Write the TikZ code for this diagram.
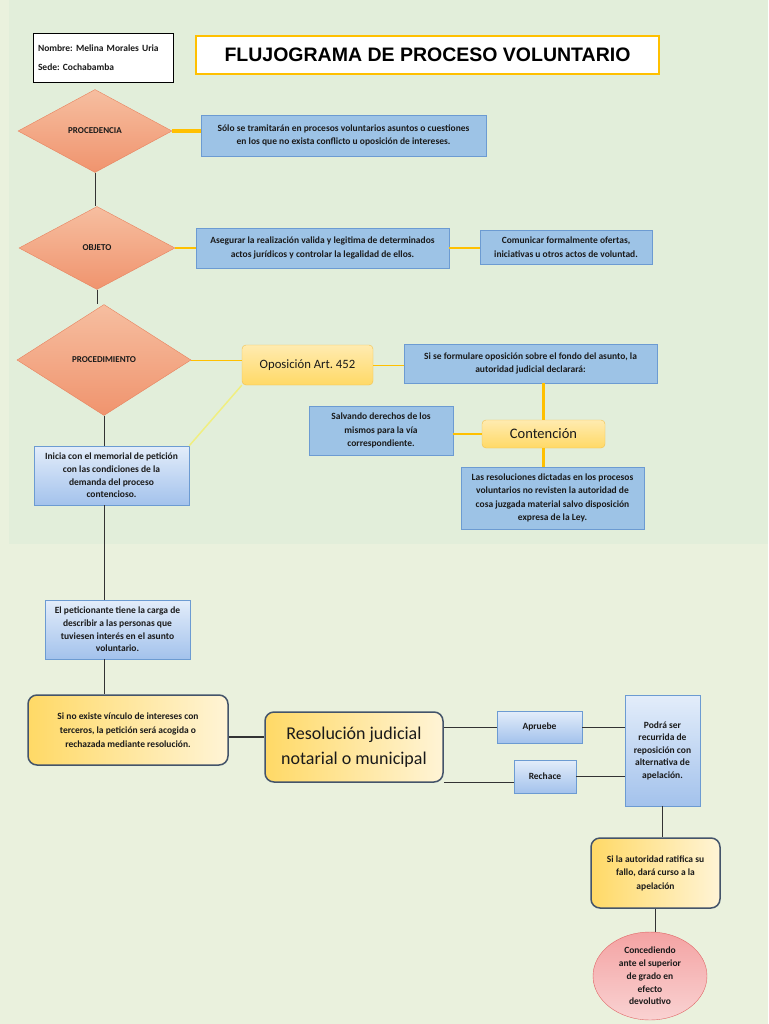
\documentclass[tikz,border=0pt]{standalone}
\usepackage{fontspec}
\setmainfont{Carlito}
\newfontfamily\titulofont{Liberation Sans}
\usetikzlibrary{shapes}
\usetikzlibrary{shapes.geometric}
\usetikzlibrary{calc}
\usetikzlibrary{positioning}
\frenchspacing

\definecolor{fondo}{HTML}{EAF1DD}
\definecolor{fondoalto}{HTML}{E2EEDA}
\definecolor{oro}{HTML}{FFC000}
\definecolor{orotenue}{HTML}{F0EE80}
\definecolor{rombotop}{HTML}{F6BEA0}
\definecolor{rombobot}{HTML}{F0946E}
\definecolor{rombolinea}{HTML}{E8825E}
\definecolor{azul}{HTML}{9DC3E6}
\definecolor{azullinea}{HTML}{6C9BD2}
\definecolor{azulclaro}{HTML}{E3EDFA}
\definecolor{azulfuerte}{HTML}{A3C2EC}
\definecolor{amarillo}{HTML}{FFD966}
\definecolor{amarilloclaro}{HTML}{FFEBB0}
\definecolor{amarillolinea}{HTML}{F2C14E}
\definecolor{crema}{HTML}{FFF4D6}
\definecolor{pizarra}{HTML}{44546A}
\definecolor{rosa}{HTML}{F4A3A3}
\definecolor{rosaclaro}{HTML}{F9D2D2}
\definecolor{rosalinea}{HTML}{E06666}
\definecolor{texto}{HTML}{1A1A1A}

\tikzset{
  rombo/.style={diamond, draw=rombolinea, top color=rombotop, bottom color=rombobot, inner sep=0pt, text=texto, font=\fontsize{9}{10}\selectfont\bfseries},
  caja/.style={rectangle, draw=azullinea, fill=azul, inner sep=0pt, align=center, text=texto, font=\fontsize{9.5}{13.5}\selectfont\bfseries},
  cajaclara/.style={rectangle, draw=azullinea, top color=azulclaro, bottom color=azulfuerte, inner sep=0pt, align=center, text=texto, font=\fontsize{9.5}{12.7}\selectfont\bfseries},
  dorada/.style={rectangle, rounded corners=4pt, draw=amarillolinea, top color=amarilloclaro, bottom color=amarillo, inner sep=0pt, align=center, text=texto},
  redondo/.style={rectangle, rounded corners=9pt, draw=pizarra, line width=1.5pt, left color=amarillo, right color=crema, inner sep=0pt, align=center, text=texto},
  linea/.style={draw=black!80, line width=0.8pt},
  orogrueso/.style={draw=oro, line width=3.5pt},
  orofino/.style={draw=oro, line width=1.8pt}
}

\begin{document}
\begin{tikzpicture}[x=1pt,y=-1pt]
% fondo
\fill[fondo] (0,0) rectangle (768,1024);
\fill[fondoalto] (9,0) rectangle (768,544);
\useasboundingbox (0,0) rectangle (768,1024);

% encabezado
\node[draw=black, fill=white, line width=0.8pt, minimum width=140, minimum height=49, text width=130, align=left, inner sep=0pt, text=texto, font=\fontsize{9.5}{11}\selectfont\bfseries] (datos) at (103,57.5) {Nombre: Melina Morales Uria\\[8pt]Sede: Cochabamba};
\node[draw=oro, fill=white, line width=2.5pt, minimum width=463, minimum height=38, inner sep=0pt, font=\titulofont\fontsize{19.5}{22}\selectfont\bfseries] (titulo) at (427.5,55) {FLUJOGRAMA DE PROCESO VOLUNTARIO};

% rombos
\node[rombo, minimum width=154, minimum height=83] (procedencia) at (95,131) {PROCEDENCIA};
\node[rombo, minimum width=156, minimum height=83] (objeto) at (97,248) {OBJETO};
\node[rombo, minimum width=174, minimum height=111] (procedimiento) at (104,360) {PROCEDIMIENTO};

% cajas azules
\node[caja, minimum width=285, minimum height=41] (tramite) at (343.5,135.5) {S\'olo se tramitar\'an en procesos voluntarios asuntos o cuestiones\\en los que no exista conflicto u oposici\'on de intereses.};
\node[caja, minimum width=253, minimum height=40] (asegurar) at (322.5,248) {Asegurar la realizaci\'on valida y legitima de determinados\\actos jur\'idicos y controlar la legalidad de ellos.};
\node[caja, minimum width=172, minimum height=34] (comunicar) at (566,247) {Comunicar formalmente ofertas,\\iniciativas u otros actos de voluntad.};
\node[caja, minimum width=253, minimum height=39] (formulare) at (530.5,363.5) {Si se formulare oposici\'on sobre el fondo del asunto, la\\autoridad judicial declarar\'a:};
\node[caja, minimum width=144, minimum height=49] (salvando) at (381,430.5) {Salvando derechos de los\\mismos para la v\'ia\\correspondiente.};
\node[caja, minimum width=183, minimum height=62] (dictadas) at (552.5,498) {Las resoluciones dictadas en los procesos\\voluntarios no revisten la autoridad de\\cosa juzgada material salvo disposici\'on\\expresa de la Ley.};

% cajas doradas
\node[dorada, minimum width=131, minimum height=40, font=\fontsize{12.7}{15}\selectfont] (oposicion) at (307.5,365) {Oposici\'on Art. 452};
\node[dorada, minimum width=123, minimum height=28, font=\fontsize{14.5}{16}\selectfont] (contencion) at (543.5,434) {Contenci\'on};

% cajas claras
\node[cajaclara, minimum width=155, minimum height=59] (inicia) at (111.5,475.5) {Inicia con el memorial de petici\'on\\con las condiciones de la\\demanda del proceso\\contencioso.};
\node[cajaclara, minimum width=145, minimum height=59] (peticionante) at (117.5,629.5) {El peticionante tiene la carga de\\describir a las personas que\\tuviesen inter\'es en el asunto\\voluntario.};
\node[cajaclara, minimum width=85, minimum height=32] (apruebe) at (539.5,727) {Apruebe};
\node[cajaclara, minimum width=62, minimum height=33] (rechace) at (545,776.5) {Rechace};
\node[cajaclara, minimum width=75, minimum height=111, font=\fontsize{9.5}{12.5}\selectfont\bfseries] (podra) at (662.5,750.5) {Podr\'a ser\\recurrida de\\reposici\'on con\\alternativa de\\apelaci\'on.};

% cajas redondeadas
\node[redondo, minimum width=200, minimum height=70, font=\fontsize{9.5}{14}\selectfont\bfseries] (vinculo) at (128,730) {Si no existe v\'inculo de intereses con\\terceros, la petici\'on ser\'a acogida o\\rechazada mediante resoluci\'on.};
\node[redondo, minimum width=178, minimum height=70, font=\fontsize{18}{25}\selectfont] (resolucion) at (354,747) {Resoluci\'on judicial\\notarial o municipal};
\node[redondo, minimum width=129, minimum height=70, font=\fontsize{9.5}{13.5}\selectfont\bfseries] (ratifica) at (655.5,873) {Si la autoridad ratifica su\\fallo, dar\'a curso a la\\apelaci\'on};
\node[ellipse, draw=rosalinea, top color=rosa, bottom color=rosaclaro, minimum width=114, minimum height=88, inner sep=0pt, align=center, text=texto, font=\fontsize{9.5}{12.8}\selectfont\bfseries] (concediendo) at (650,976) {Concediendo\\ante el superior\\de grado en\\efecto\\devolutivo};

% conectores dorados
\draw[orogrueso] (procedencia.east) -- (procedencia.east -| tramite.west);
\draw[orofino] (objeto.east) -- (objeto.east -| asegurar.west);
\draw[orofino] (asegurar.east) -- (asegurar.east -| comunicar.west);
\draw[orofino, line width=1pt] (procedimiento.east) -- (procedimiento.east -| oposicion.west);
\draw[orofino, line width=1pt] (oposicion.east) -- (oposicion.east -| formulare.west);
\draw[orogrueso] (contencion.north) -- (contencion.north |- formulare.south);
\draw[orofino] (contencion.west) -- (contencion.west -| salvando.east);
\draw[orogrueso] (contencion.south) -- (contencion.south |- dictadas.north);
\draw[draw=orotenue, line width=1.5pt] (oposicion.south west) -- (inicia.north east);

% conectores negros
\draw[linea] (procedencia.south) -- (procedencia.south |- objeto.north);
\draw[linea] (objeto.south) -- (objeto.south |- procedimiento.north);
\draw[linea] (procedimiento.south) -- (procedimiento.south |- inicia.north);
\draw[linea] (procedimiento.south |- inicia.south) -- (procedimiento.south |- peticionante.north);
\draw[linea] (procedimiento.south |- peticionante.south) -- (procedimiento.south |- vinculo.north);
\draw[linea, line width=1.2pt] ([yshift=-7pt]vinculo.east) -- ([yshift=-7pt]vinculo.east -| resolucion.west);
\draw[linea] (apruebe.west) -- (apruebe.west -| resolucion.east);
\draw[linea] (resolucion.south east) -- (resolucion.south east -| rechace.west);
\draw[linea] (apruebe.east) -- (apruebe.east -| podra.west);
\draw[linea] (rechace.east) -- (rechace.east -| podra.west);
\draw[linea] (podra.south) -- (podra.south |- ratifica.north);
\draw[linea] (ratifica.south) -- (ratifica.south |- concediendo.north);
\end{tikzpicture}
\end{document}
